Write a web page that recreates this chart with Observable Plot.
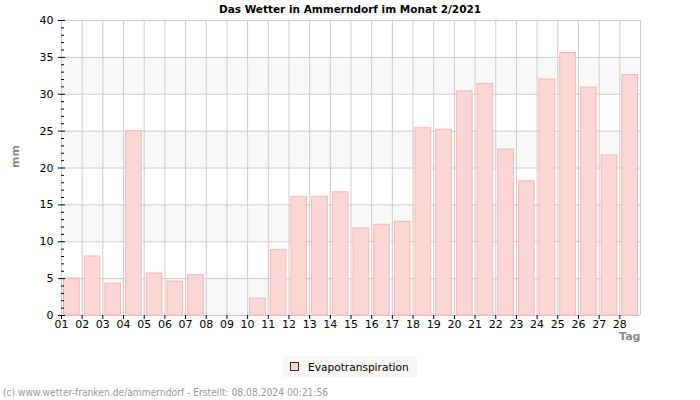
<!DOCTYPE html>
<html>
<head>
<meta charset="utf-8">
<script src="https://cdn.jsdelivr.net/npm/d3@7"></script>
<script src="https://cdn.jsdelivr.net/npm/@observablehq/plot@0.6"></script>
<style>
  html, body { margin: 0; padding: 0; background: #fff; }
  #wrap { position: relative; width: 700px; height: 400px; overflow: hidden; font-family: "DejaVu Sans", sans-serif; }
  #title { position: absolute; top: 3px; left: 0; width: 700px; text-align: center; font-weight: bold; font-size: 10.5px; color: #000; }
  #chart { position: absolute; top: 0; left: 0; }
  #legend { position: absolute; left: 283px; top: 356px; width: 134px; height: 21px; background: #f6f6f6; font-size: 10.6px; display: flex; align-items: center; }
  #legend .sw { display: inline-block; width: 7px; height: 7px; background: #fcd5d5; border: 1px solid #333; margin-left: 7px; margin-right: 9px; }
  #footer { position: absolute; left: 3px; top: 387px; font-family: "DejaVu Sans Condensed", "DejaVu Sans", sans-serif; font-stretch: condensed; font-size: 10.2px; color: #999; white-space: nowrap; }
</style>
</head>
<body>
<div id="wrap">
  <div id="chart"></div>
  <div id="title">Das Wetter in Ammerndorf im Monat 2/2021</div>
  <div id="legend"><span class="sw"></span><span>Evapotranspiration</span></div>
  <div id="footer">(c) www.wetter-franken.de/ammerndorf - Erstellt: 08.08.2024 00:21:56</div>
</div>
<script>
const dayLabels = ["01","02","03","04","05","06","07","08","09","10","11","12","13","14","15","16","17","18","19","20","21","22","23","24","25","26","27","28"];
const evapo = [5.0, 8.0, 4.3, 25.0, 5.7, 4.6, 5.5, 0, 0, 2.3, 8.9, 16.1, 16.1, 16.7, 11.8, 12.3, 12.7, 25.4, 25.2, 30.4, 31.4, 22.5, 18.2, 32.0, 35.6, 30.9, 21.7, 32.6];
const yTicks = [0, 5, 10, 15, 20, 25, 30, 35, 40];
const yMinor = d3.range(0, 41, 1).filter(v => v % 5 !== 0);

const data = dayLabels.map((d, i) => ({day: i + 1, label: d, v: evapo[i]}));
const bands = yTicks.slice(0, -1).map((t, i) => ({y1: t, y2: yTicks[i + 1], shade: i % 2 === 0})).filter(b => b.shade);
const xGrid = d3.range(1, dayLabels.length + 2);

const chart = Plot.plot({
  width: 700,
  height: 345,
  marginTop: 20,
  marginBottom: 30,
  marginLeft: 61,
  marginRight: 60,
  style: { fontFamily: "DejaVu Sans, sans-serif", fontSize: "11px", color: "#000", background: "transparent" },
  x: { type: "linear", domain: [1, dayLabels.length + 1] },
  y: { domain: [0, 40] },
  marks: [
    Plot.rectY(bands, { x1: 1, x2: dayLabels.length + 1, y1: "y1", y2: "y2", fill: "#f8f8f8" }),
    Plot.ruleY(yTicks, { stroke: "#cccccc", strokeWidth: 1 }),
    Plot.ruleX(xGrid, { stroke: "#cccccc", strokeWidth: 1 }),
    Plot.rectY(data.filter(d => d.v > 0), {
      x1: "day", x2: d => d.day + 1, y1: 0, y2: "v",
      insetLeft: 2.5, insetRight: 2.5,
      fill: "#fcd5d5", stroke: "#f7b6b6", strokeWidth: 1
    }),
    Plot.axisY({ ticks: yTicks, tickSize: 7, dx: 4, tickPadding: 5, label: null, fontSize: 11 }),
    Plot.axisY({ ticks: yMinor, tickSize: 3, dx: 3, tickFormat: () => "", label: null }),
    Plot.axisX({ ticks: data.map(d => d.day), tickFormat: d => dayLabels[d - 1], tickSize: 4, tickPadding: 1, label: null, fontSize: 11 }),
    Plot.text(["mm"], { frameAnchor: "left", dx: -46, rotate: -90, fill: "#888", fontWeight: "bold", fontSize: 11 }),
    Plot.text(["Tag"], { frameAnchor: "bottom-right", dy: 17, lineAnchor: "top", textAnchor: "end", fill: "#888", fontWeight: "bold", fontSize: 11 })
  ]
});
document.getElementById("chart").appendChild(chart);
</script>
</body>
</html>
